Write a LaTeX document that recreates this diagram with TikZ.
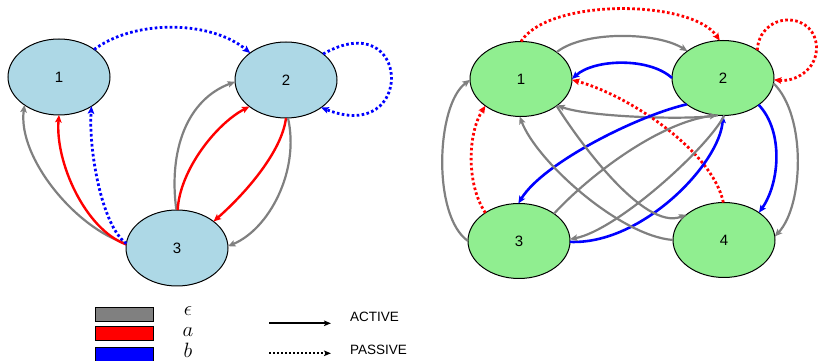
\documentclass[tikz,border=0pt]{standalone}
\usepackage{fontspec}
\setmainfont{Liberation Sans}
\usetikzlibrary{shapes.geometric,arrows.meta}
\definecolor{lb}{RGB}{173,216,230}
\definecolor{lg}{RGB}{144,238,144}
\definecolor{eg}{RGB}{128,128,128}
\tikzset{
  st/.style={draw=black,line width=1pt,ellipse,minimum width=102pt,minimum height=76pt,inner sep=0pt,outer sep=0pt,font=\fontsize{15}{15}\selectfont},
  tip/.style={-{Stealth[length=7.5pt,width=6.5pt,inset=1.5pt]}},
  eps/.style={tip,draw=eg,line width=2.2pt},
  ea/.style={tip,draw=red,line width=2.4pt},
  eb/.style={tip,draw=blue,line width=2.6pt},
  pa/.style={tip,draw=red,line width=2.8pt,dash pattern=on 2.6pt off 2.4pt},
  pb/.style={tip,draw=blue,line width=2.8pt,dash pattern=on 2.6pt off 2.4pt},
  legbox/.style={draw=black,line width=0.8pt,minimum width=58pt,minimum height=14pt,inner sep=0pt},
  legsym/.style={anchor=base,inner sep=0pt,font=\fontsize{22}{22}\selectfont},
  legtxt/.style={anchor=base west,inner sep=0pt,font=\fontsize{13.5}{13.5}\selectfont},
}
\begin{document}
\begin{tikzpicture}[x=1pt,y=1pt]
\useasboundingbox (0,0) rectangle (819,361);
% left graph
\node[st,fill=lb] (L1) at (59,284) {1};
\node[st,fill=lb] (L2) at (286,281) {2};
\node[st,fill=lb] (L3) at (177,113) {3};
\draw[pb] (L1.38) .. controls +(40,30) and +(-40,33) .. (L2.143);
\draw[pb] (L2.35) .. controls +(88,50) and +(95,-38) .. (L2.-38);
\draw[eps] (L3.175) .. controls +(-50,15) and +(-7,-53) .. (L1.219);
\draw[ea] (L3.176) .. controls +(-41,15) and +(-4,-47) .. (L1.270);
\draw[pb] (L3.175) .. controls +(-25,18) and +(-3,-42) .. (L1.-42);
\draw[eps] (L3.91) .. controls +(-8,60) and +(-48,-18) .. (L2.182);
\draw[ea] (L3.89) .. controls +(2,40) and +(-33,-17) .. (L2.216);
\draw[ea] (L2.270) .. controls +(-4,-33) and +(33,29) .. (L3.36);
\draw[eps] (L2.273) .. controls +(12,-53) and +(41,17) .. (L3.2);
% right graph
\node[st,fill=lg,minimum height=75pt] (R1) at (521,282) {1};
\node[st,fill=lg,minimum height=75pt] (R2) at (723,283) {2};
\node[st,fill=lg,minimum height=75pt] (R3) at (519,120) {3};
\node[st,fill=lg,minimum height=75pt] (R4) at (724,121) {4};
\draw[pa] (R1.90) .. controls +(28,44) and +(-28,41) .. (R2.95);
\draw[pa] (R2.39) .. controls (758,328) and (771,341) .. (788,341)
   .. controls (805,341) and (816.5,329) .. (816.5,313)
   .. controls (816.5,291) and (795,279) .. (R2.-2);
\draw[eps] (R1.37) .. controls +(28,22) and +(-30,19) .. (R2.143);
\draw[eb] (R2.180) .. controls +(-23,21) and +(22,20) .. (R1.0);
\draw[eps] (R2.262) .. controls +(-25,-5) and +(32,-12) .. (R1.-36);
\draw[pa] (R4.91) .. controls +(-11,52) and +(56,-15) .. (R1.-1);
\draw[eb] (R2.216) .. controls +(-48,-11) and +(25,41) .. (R3.91);
\draw[eb] (R3.-1) .. controls +(72,-3) and +(-3,-48) .. (R2.270);
\draw[eps] (R3.38) .. controls +(35,38) and +(-58,-7) .. (R2.261);
\draw[eps] (R2.272) .. controls +(-17,-33) and +(47,9) .. (R3.2);
\draw[eps] (R1.-37) .. controls +(20,-32) and +(-43,-17) .. (R4.146);
\draw[eps] (R4.180) .. controls +(-53,4) and +(17,-45) .. (R1.268);
\draw[eps] (R3.180) .. controls +(-36,25) and +(-34,-25) .. (R1.181);
\draw[pa] (R3.140) .. controls +(-19,28) and +(-18,-28) .. (R1.217);
\draw[eb] (R2.-37) .. controls +(25,-26) and +(21,30) .. (R4.38);
\draw[eps] (R2.-6) .. controls +(33,-32) and +(29,31) .. (R4.4);
% legend
\node[legbox,fill=eg] (kg) at (124,47) {};
\node[legbox,fill=red] (kr) at (124,27.5) {};
\node[legbox,fill=blue] (kb) at (124,6.5) {};
\node[legsym] (se) at (188,45.5) {$\epsilon$};
\node[legsym] (sa) at (188,24.5) {$a$};
\node[legsym] (sb) at (188,3.5) {$b$};
\coordinate (a1) at (269,37.7);
\coordinate (a2) at (331,37.7);
\coordinate (p1) at (269,7.7);
\coordinate (p2) at (331,7.7);
\draw[-{Stealth[length=7pt,width=5.5pt,inset=1.5pt]},line width=1.6pt] (a1) -- (a2);
\draw[-{Stealth[length=7pt,width=5.5pt,inset=1.5pt]},line width=1.6pt,dash pattern=on 2pt off 2pt] (p1) -- (p2);
\node[legtxt] (ta) at (350,39.3) {ACTIVE};
\node[legtxt] (tp) at (350,6) {PASSIVE};
\end{tikzpicture}
\end{document}
